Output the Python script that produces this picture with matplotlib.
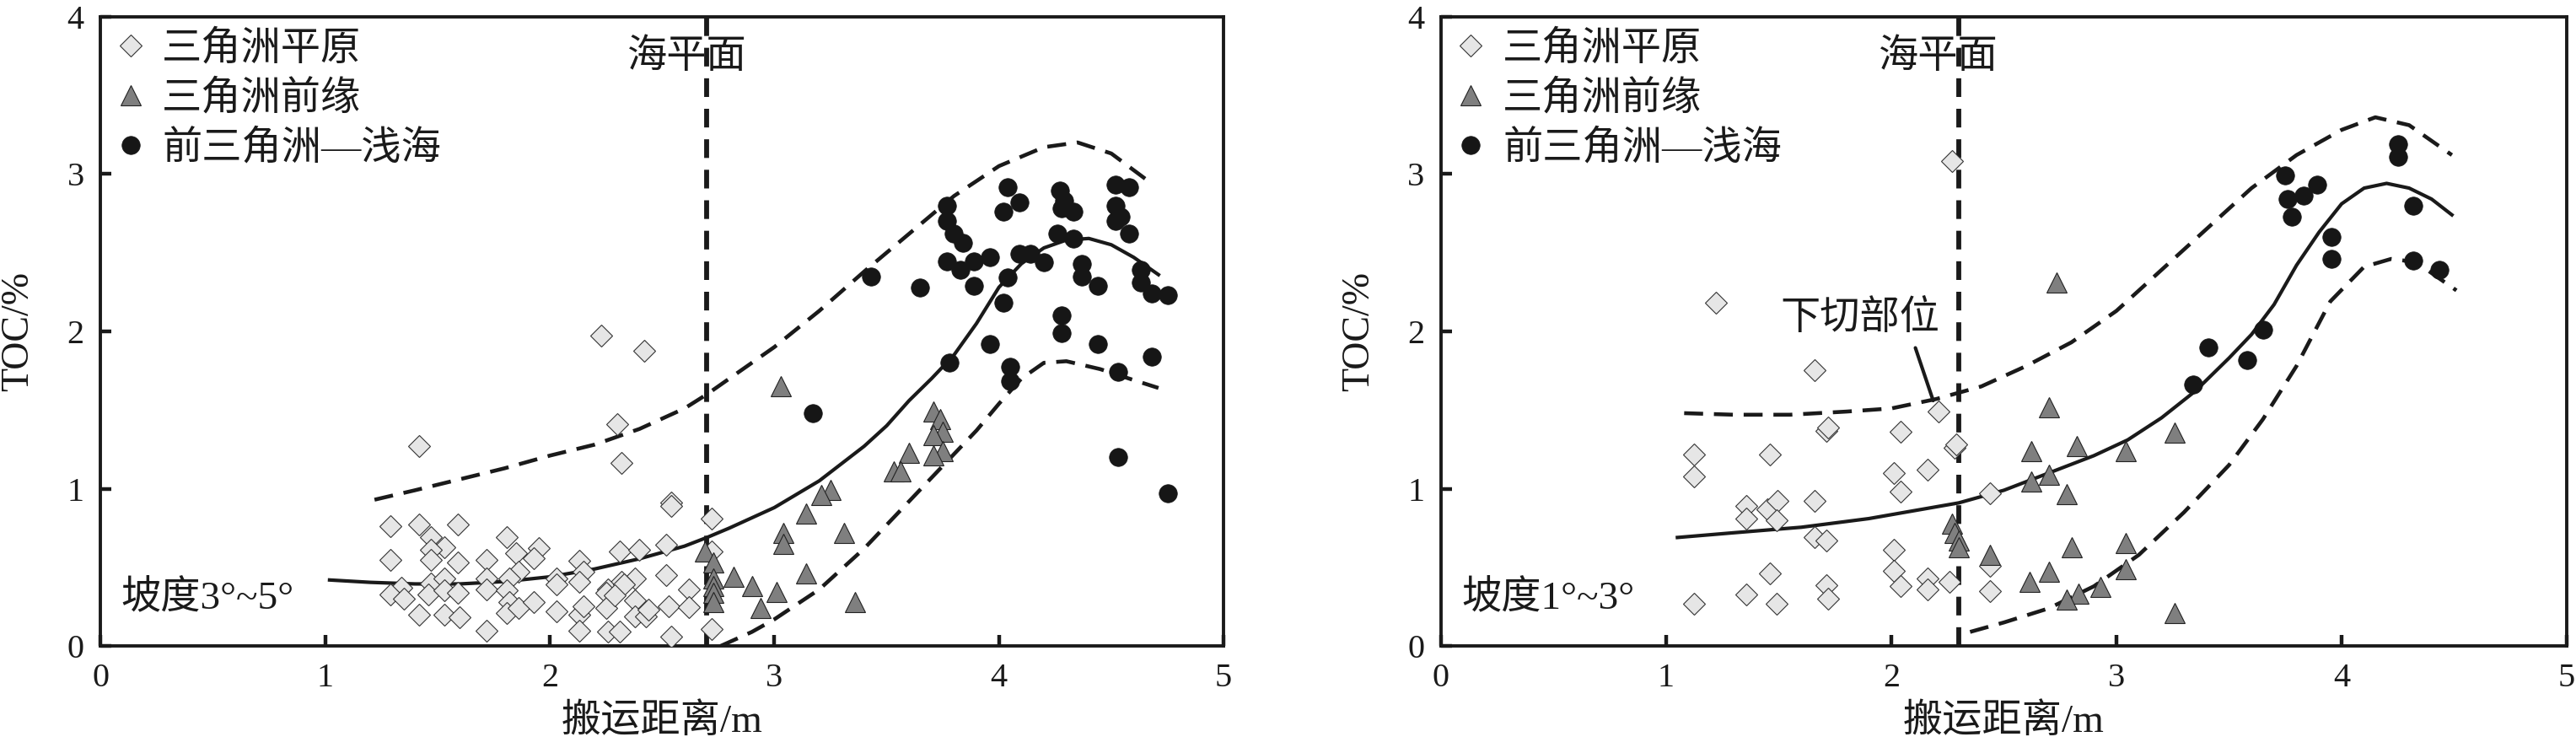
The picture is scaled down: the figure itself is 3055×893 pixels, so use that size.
import numpy as np
import matplotlib
matplotlib.use('Agg')
import matplotlib.pyplot as plt

plt.rcParams['font.family'] = ['Liberation Serif', 'Noto Sans CJK SC']
plt.rcParams['axes.unicode_minus'] = False

# ---------- left panel (slope 3-5 deg) ----------
left_plain_x = [1.42, 2.30, 2.32, 2.54, 2.54, 1.29, 1.42, 1.59, 1.29, 1.47, 1.53, 1.47, 1.47, 1.59,
                1.81, 1.95, 1.85, 1.93, 1.72, 1.86, 1.72, 1.82, 1.72, 2.03, 2.03, 2.13, 2.15, 2.13,
                2.31, 2.40, 2.52, 2.52, 2.38, 2.32, 2.26, 2.25, 2.62, 1.34, 1.29, 1.35, 1.47, 1.46,
                1.53, 1.53, 1.59, 1.42, 1.53, 1.60, 1.72, 1.81, 1.82, 1.81, 1.86, 1.93, 2.03, 2.13,
                2.15, 2.13, 2.25, 2.26, 2.31, 2.38, 2.38, 2.43, 2.53, 2.62, 2.54, 2.33, 2.29, 2.44,
                2.72, 2.72, 2.72, 2.23, 2.42]
left_plain_y = [1.27, 1.41, 1.165, 0.91, 0.89, 0.76, 0.77, 0.77, 0.55, 0.69, 0.63, 0.61, 0.55, 0.53,
                0.69, 0.62, 0.59, 0.56, 0.55, 0.47, 0.43, 0.43, 0.36, 0.43, 0.39, 0.54, 0.47, 0.41,
                0.60, 0.61, 0.645, 0.45, 0.43, 0.41, 0.36, 0.34, 0.36, 0.37, 0.33, 0.30, 0.40, 0.33,
                0.43, 0.355, 0.34, 0.20, 0.20, 0.185, 0.10, 0.355, 0.28, 0.21, 0.24, 0.28, 0.22, 0.20,
                0.255, 0.10, 0.24, 0.09, 0.09, 0.29, 0.19, 0.19, 0.255, 0.25, 0.06, 0.39, 0.32, 0.23,
                0.81, 0.60, 0.107, 1.975, 1.875]

left_front_x = [3.03, 3.71, 3.74, 3.75, 3.71, 3.75, 3.71, 3.60, 3.53, 3.56, 3.25, 3.21, 3.14, 3.31,
                3.04, 3.04, 3.14, 2.82, 2.90, 3.01, 2.94, 3.36, 2.69, 2.73, 2.73, 2.73, 2.73, 2.73]
left_front_y = [1.65, 1.49, 1.44, 1.36, 1.34, 1.24, 1.21, 1.23, 1.11, 1.11, 0.99, 0.96, 0.84, 0.72,
                0.72, 0.65, 0.46, 0.44, 0.38, 0.345, 0.24, 0.28, 0.60, 0.53, 0.43, 0.38, 0.34, 0.28]

left_pro_x = [3.43, 3.65, 3.77, 3.77, 3.80, 3.84, 3.77, 3.83, 3.89, 3.96, 3.89, 4.04, 4.09, 4.02,
              4.09, 4.14, 4.20, 4.04, 4.02, 4.27, 4.29, 4.28, 4.33, 4.26, 4.33, 4.37, 4.37, 4.44,
              4.28, 4.28, 4.44, 3.96, 3.78, 4.05, 4.05, 4.52, 4.58, 4.52, 4.54, 4.52, 4.58, 4.63,
              4.63, 4.68, 4.75, 4.68, 4.53, 4.53, 4.75, 3.17]
left_pro_y = [2.35, 2.28, 2.80, 2.70, 2.62, 2.56, 2.445, 2.39, 2.445, 2.47, 2.29, 2.915, 2.82, 2.76,
              2.49, 2.49, 2.44, 2.34, 2.18, 2.895, 2.83, 2.78, 2.76, 2.62, 2.59, 2.43, 2.35, 2.29,
              2.10, 1.99, 1.92, 1.92, 1.80, 1.775, 1.685, 2.93, 2.915, 2.80, 2.73, 2.70, 2.62, 2.39,
              2.31, 2.24, 2.23, 1.84, 1.74, 1.20, 0.97, 1.48]

left_fit_x = [1.02, 1.2, 1.4, 1.6, 1.8, 2.0, 2.2, 2.4, 2.6, 2.7, 2.8, 3.0, 3.2, 3.4, 3.5, 3.6,
              3.7, 3.8, 3.9, 4.0, 4.1, 4.2, 4.3, 4.4, 4.5, 4.6, 4.71]
left_fit_y = [0.42, 0.405, 0.395, 0.395, 0.41, 0.44, 0.49, 0.555, 0.635, 0.69, 0.75, 0.88, 1.05,
              1.27, 1.40, 1.56, 1.70, 1.85, 2.05, 2.28, 2.43, 2.53, 2.58, 2.59, 2.55, 2.47, 2.36]
left_up_x = [1.22, 1.4, 1.6, 1.8, 2.0, 2.2, 2.4, 2.6, 2.7, 2.8, 3.0, 3.2, 3.4, 3.6, 3.8, 4.0,
             4.2, 4.35, 4.5, 4.66]
left_up_y = [0.93, 0.99, 1.06, 1.13, 1.21, 1.28, 1.38, 1.51, 1.60, 1.70, 1.90, 2.13, 2.38, 2.62,
             2.86, 3.05, 3.17, 3.20, 3.13, 2.96]
left_low_x = [2.76, 2.9, 3.0, 3.2, 3.4, 3.6, 3.8, 3.9, 4.0, 4.1, 4.2, 4.3, 4.45, 4.6, 4.71]
left_low_y = [0.0, 0.09, 0.17, 0.36, 0.62, 0.92, 1.22, 1.37, 1.54, 1.70, 1.80, 1.81, 1.76, 1.69, 1.64]
left_sea = 2.70

# ---------- right panel (slope 1-3 deg) ----------
right_plain_x = [1.22, 1.66, 2.21, 1.71, 1.72, 2.04, 2.28, 2.29, 1.125, 1.125, 1.46, 2.01, 2.16,
                 2.04, 1.355, 1.355, 1.45, 1.495, 1.49, 1.66, 1.66, 1.71, 2.01, 1.46, 2.01, 2.04,
                 2.16, 2.16, 2.26, 1.71, 1.72, 1.355, 1.49, 1.125, 2.27, 2.44, 2.44, 2.44]
right_plain_y = [2.18, 1.755, 1.49, 1.37, 1.39, 1.36, 1.26, 1.28, 1.215, 1.08, 1.215, 1.10, 1.12,
                 0.98, 0.89, 0.81, 0.87, 0.92, 0.80, 0.92, 0.69, 0.67, 0.61, 0.46, 0.48, 0.38,
                 0.43, 0.36, 0.41, 0.385, 0.30, 0.33, 0.27, 0.27, 3.08, 0.97, 0.51, 0.35]

right_front_x = [2.27, 2.28, 2.30, 2.30, 2.735, 2.70, 2.62, 2.825, 3.04, 3.26, 2.62, 2.70, 2.78,
                 2.80, 3.04, 3.04, 2.70, 2.615, 2.83, 2.78, 2.93, 3.26, 2.44]
right_front_y = [0.78, 0.72, 0.67, 0.63, 2.31, 1.52, 1.24, 1.27, 1.24, 1.355, 1.045, 1.09, 0.965,
                 0.63, 0.656, 0.49, 0.47, 0.41, 0.335, 0.295, 0.375, 0.21, 0.58]

right_pro_x = [3.34, 3.41, 3.58, 3.65, 3.75, 3.76, 3.78, 3.83, 3.89, 3.955, 3.955, 4.25, 4.25,
               4.32, 4.32, 4.435]
right_pro_y = [1.66, 1.90, 1.82, 2.01, 2.99, 2.84, 2.73, 2.86, 2.93, 2.60, 2.46, 3.19, 3.11,
               2.80, 2.45, 2.39]

right_fit_x = [1.05, 1.3, 1.6, 1.9, 2.1, 2.3, 2.5, 2.7, 2.9, 3.05, 3.2, 3.35, 3.5, 3.6, 3.7,
               3.8, 3.9, 4.0, 4.1, 4.2, 4.3, 4.4, 4.49]
right_fit_y = [0.69, 0.72, 0.755, 0.81, 0.86, 0.91, 0.99, 1.10, 1.21, 1.31, 1.45, 1.62, 1.83,
               1.98, 2.17, 2.42, 2.63, 2.81, 2.91, 2.94, 2.91, 2.84, 2.74]
right_up_x = [1.08, 1.3, 1.55, 1.8, 2.0, 2.2, 2.4, 2.6, 2.8, 3.0, 3.2, 3.4, 3.6, 3.8, 4.0, 4.15,
              4.3, 4.49]
right_up_y = [1.48, 1.47, 1.47, 1.49, 1.51, 1.57, 1.65, 1.78, 1.93, 2.13, 2.39, 2.65, 2.91, 3.12,
              3.28, 3.36, 3.31, 3.12]
right_low_x = [2.35, 2.5, 2.7, 2.9, 3.1, 3.3, 3.5, 3.65, 3.8, 3.95, 4.1, 4.22, 4.33, 4.51]
right_low_y = [0.09, 0.15, 0.24, 0.38, 0.58, 0.85, 1.15, 1.44, 1.78, 2.19, 2.41, 2.46, 2.44, 2.26]
right_sea = 2.30

labels = ['三角洲平原', '三角洲前缘', '前三角洲—浅海']
x_ticks = [0, 1, 2, 3, 4, 5]
y_ticks = [0, 1, 2, 3, 4]

FS = 34
TFS = 29
DASH = (0, (4.9, 2.8))


def draw_panel(ax, plain, front, pro, fit, up, low, sea, slope_text):
    ax.plot(up[0], up[1], color='#1a1a1a', lw=3.3, ls=DASH, zorder=2)
    ax.plot(low[0], low[1], color='#1a1a1a', lw=3.3, ls=DASH, zorder=2)
    ax.plot(fit[0], fit[1], color='#1a1a1a', lw=3.0, zorder=2)
    ax.axvline(sea, color='#1a1a1a', lw=4.2, ls=(0, (3.8, 2.4)), zorder=1)

    h1, = ax.plot(plain[0], plain[1], ls='none', marker='D', ms=13.5, mfc='#e6e6e6',
                  mec='#333333', mew=0.8, zorder=3)
    h2, = ax.plot(front[0], front[1], ls='none', marker='^', ms=17, mfc='#7f7f7f',
                  mec='#222222', mew=0.8, zorder=3)
    h3, = ax.plot(pro[0], pro[1], ls='none', marker='o', ms=15.5, mfc='#161616',
                  mec='#161616', mew=0.5, zorder=4)

    leg = ax.legend([h1, h2, h3], labels, loc='upper left', frameon=False,
                    prop={'size': FS},
                    handlelength=0.8, handletextpad=0.4, labelspacing=0.3, borderpad=0.35,
                    borderaxespad=0.0)
    for t in leg.get_texts():
        t.set_color('#1a1a1a')

    ax.text(sea - 0.09, 3.74, '海平面', fontsize=FS, ha='center', va='center', color='#1a1a1a')
    ax.text(0.09, 0.30, slope_text, fontsize=FS, ha='left', va='center', color='#1a1a1a')

    ax.set_xlim(0, 5)
    ax.set_ylim(0, 4)
    ax.set_xticks(x_ticks)
    ax.set_yticks(y_ticks)
    ax.tick_params(direction='in', length=9.5, width=3.2, labelsize=TFS, pad=14,
                   colors='#1a1a1a')
    for s in ax.spines.values():
        s.set_linewidth(2.8)
        s.set_color('#1a1a1a')
    ax.set_xlabel('搬运距离/m', fontsize=FS, labelpad=8, color='#1a1a1a')
    ax.set_ylabel('TOC/%', fontsize=33, color='#1a1a1a')
    ax.yaxis.set_label_coords(-0.057, 0.5)


fig = plt.figure(figsize=(30.55, 8.93), dpi=100)
ax1 = fig.add_axes([0.039, 0.142, 0.436, 0.836])
ax2 = fig.add_axes([0.5594, 0.142, 0.437, 0.836])

draw_panel(ax1, (left_plain_x, left_plain_y), (left_front_x, left_front_y),
           (left_pro_x, left_pro_y), (left_fit_x, left_fit_y), (left_up_x, left_up_y),
           (left_low_x, left_low_y), left_sea, '坡度3°~5°')
draw_panel(ax2, (right_plain_x, right_plain_y), (right_front_x, right_front_y),
           (right_pro_x, right_pro_y), (right_fit_x, right_fit_y), (right_up_x, right_up_y),
           (right_low_x, right_low_y), right_sea, '坡度1°~3°')

ax2.text(1.86, 2.08, '下切部位', fontsize=FS, ha='center', va='center', color='#1a1a1a')
ax2.annotate('', xy=(2.186, 1.56), xytext=(2.107, 1.895),
             arrowprops=dict(arrowstyle='-', color='#1a1a1a', lw=3.0, shrinkA=0, shrinkB=0))

fig.savefig('out.png', dpi=100, facecolor='white')
